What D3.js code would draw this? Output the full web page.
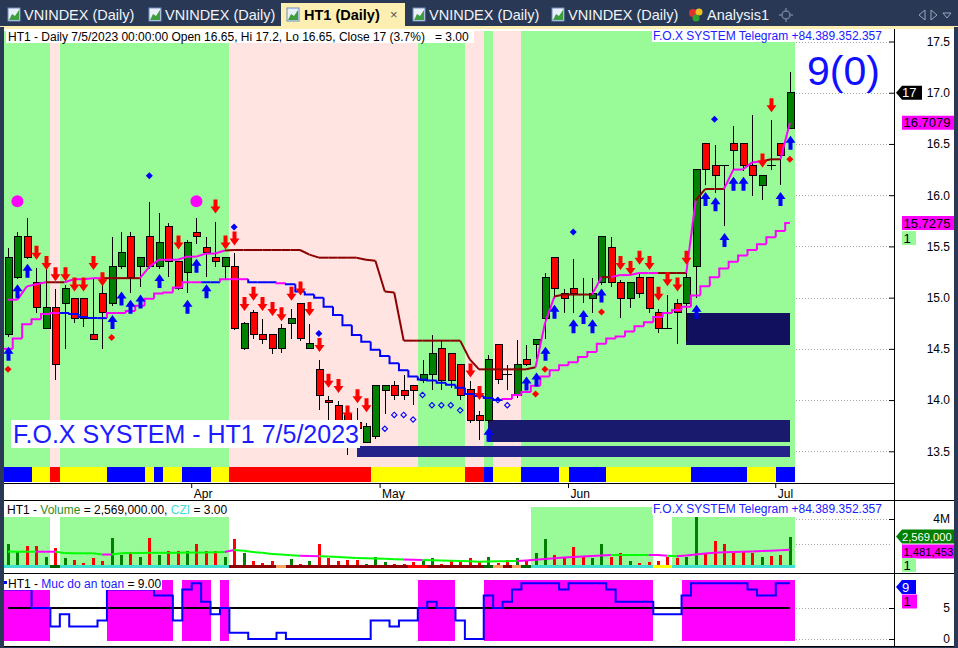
<!DOCTYPE html>
<html>
<head>
<meta charset="utf-8">
<script src="https://cdn.jsdelivr.net/npm/d3@7"></script>
<style>
  body { margin: 0; background: #293955; overflow: hidden; }
  svg { display: block; }
  text { font-family: "Liberation Sans", Arial, sans-serif; }
</style>
</head>
<body>
<div id="chart"></div>
<script>
// ---------- data ----------
var marDays = [7, 8, 9, 10, 13, 14, 15, 16, 17, 20, 21, 22, 23, 24, 27, 28, 29, 30, 31];
var aprDays = [3, 4, 5, 6, 7, 10, 11, 12, 13, 14, 17, 18, 19, 20, 21, 24, 25, 26, 27, 28];
var mayDays = [4, 5, 8, 9, 10, 11, 12, 15, 16, 17, 18, 19, 22, 23, 24, 25, 26, 29, 30, 31];
var junDays = [1, 2, 5, 6, 7, 8, 9, 12, 13, 14, 15, 16, 19, 20, 21, 22, 23, 26, 27, 28, 29, 30];
var julDays = [3, 4, 5];
var dates = [].concat(
    marDays.map(d => "3/" + d), aprDays.map(d => "4/" + d), mayDays.map(d => "5/" + d),
    junDays.map(d => "6/" + d), julDays.map(d => "7/" + d));
var monthTicks = ["4/3", "5/4", "6/1", "7/3"];
var monthNames = ["Apr", "May", "Jun", "Jul"];

var open = [14.64, 15.20, 15.60, 15.15, 14.70, 14.90, 14.94, 14.99, 14.99, 14.64,
    15.04, 14.94, 15.30, 15.60, 15.30, 15.60, 15.30, 15.69, 15.35, 15.25,
    15.64, 15.49, 15.39, 15.30, 15.30, 14.50, 14.85, 14.64, 14.64, 14.50,
    14.75, 14.94, 14.50, 14.30, 14.00, 13.95, 13.86, 13.78, 13.59, 13.64,
    14.09, 14.14, 14.09, 14.14, 14.19, 14.25, 14.50, 14.45, 14.35, 14.10,
    13.85, 13.80, 14.54, 14.25, 14.04, 14.40, 14.54, 14.80, 15.39, 15.04,
    15.09, 15.04, 14.99, 15.15, 15.49, 15.15, 14.99, 15.20, 15.20, 14.85,
    14.70, 14.94, 14.94, 15.30, 16.50, 16.29, 16.29, 16.50, 16.50, 16.29,
    16.09, 16.29, 16.50, 16.65];
var high = [15.48, 15.64, 15.78, 15.29, 15.29, 15.08, 15.12, 15.00, 15.00, 15.19,
    15.20, 15.59, 15.64, 15.64, 15.40, 15.93, 15.83, 15.73, 15.36, 15.56,
    15.78, 15.59, 15.74, 15.40, 15.44, 14.76, 14.88, 14.79, 14.64, 14.74,
    14.89, 14.95, 14.74, 14.39, 14.04, 13.99, 13.90, 13.92, 13.78, 14.15,
    14.15, 14.19, 14.24, 14.14, 14.39, 14.64, 14.59, 14.45, 14.35, 14.19,
    13.89, 14.44, 14.55, 14.34, 14.59, 14.54, 14.60, 15.24, 15.39, 15.08,
    15.38, 15.19, 15.19, 15.60, 15.59, 15.17, 15.15, 15.24, 15.20, 14.89,
    15.03, 14.99, 15.24, 16.25, 16.50, 16.49, 16.29, 16.68, 16.50, 16.78,
    16.19, 16.73, 16.50, 17.20];
var low = [14.62, 15.18, 15.38, 14.85, 14.69, 14.20, 14.50, 14.75, 14.71, 14.59,
    14.50, 14.92, 15.28, 15.05, 15.10, 15.28, 15.28, 15.20, 15.07, 15.05,
    15.52, 15.20, 15.30, 15.17, 14.68, 14.49, 14.60, 14.55, 14.45, 14.46,
    14.60, 14.58, 14.50, 13.90, 13.80, 13.70, 13.46, 13.66, 13.58, 13.62,
    13.86, 14.00, 14.00, 13.95, 14.17, 14.10, 14.10, 14.12, 14.00, 13.78,
    13.61, 13.78, 14.16, 14.10, 14.02, 14.33, 14.40, 14.60, 14.99, 14.85,
    14.85, 14.95, 14.85, 15.12, 15.10, 14.80, 14.90, 15.00, 14.85, 14.65,
    14.70, 14.55, 14.58, 15.00, 16.10, 16.02, 15.70, 16.24, 16.24, 15.99,
    15.95, 16.25, 16.10, 16.65];
var close = [15.39, 15.60, 15.39, 14.90, 14.90, 14.35, 15.09, 14.80, 14.80, 14.59,
    14.85, 15.30, 15.44, 15.20, 15.39, 15.30, 15.54, 15.35, 15.09, 15.54,
    15.60, 15.44, 15.35, 15.39, 14.70, 14.75, 14.64, 14.59, 14.50, 14.70,
    14.80, 14.60, 14.55, 14.04, 13.98, 13.80, 13.80, 13.72, 13.74, 14.14,
    14.14, 14.04, 14.04, 14.09, 14.25, 14.45, 14.19, 14.19, 14.04, 13.80,
    13.80, 14.40, 14.20, 14.25, 14.35, 14.35, 14.59, 15.20, 15.09, 14.99,
    15.04, 15.04, 15.04, 15.60, 15.15, 14.99, 15.15, 15.04, 14.89, 14.70,
    14.70, 14.85, 15.20, 16.25, 16.25, 16.19, 16.29, 16.44, 16.29, 16.19,
    16.19, 16.29, 16.39, 17.00];

// trailing stops (upper hugs price, lower is the slow stair)
var upperStop = [14.98, 14.98, 15.11, 15.13, 15.15, 15.15, 15.15, 15.18, 15.18, 15.19,
    15.19, 15.19, 15.19, 15.19, 15.19, 15.30, 15.37, 15.37, 15.37, 15.40,
    15.40, 15.43, 15.43, 15.46, 15.465, 15.465, 15.465, 15.465, 15.465, 15.465,
    15.465, 15.465, 15.42, 15.39, 15.39, 15.39, 15.39, 15.39, 15.37, 15.36,
    15.06, 15.05, 14.58, 14.58, 14.58, 14.58, 14.58, 14.58, 14.58, 14.40,
    14.30, 14.30, 14.30, 14.30, 14.30, 14.30, 14.32, 14.75, 15.01, 15.03,
    15.03, 15.03, 15.03, 15.20, 15.20, 15.22, 15.22, 15.24, 15.24, 15.24,
    15.24, 15.24, 15.24, 15.95, 16.06, 16.06, 16.06, 16.25, 16.25, 16.32,
    16.33, 16.35, 16.35, 16.7079];
var upperColorRuns = [["M", 5], ["R", 2], ["M", 4], ["R", 4], ["M", 9], ["R", 33], ["M", 2], ["R", 4],
    ["M", 1], ["R", 1], ["M", 5], ["R", 3], ["M", 1], ["R", 3], ["M", 4], ["R", 2], ["M", 1]];
var lowerStop = [14.50, 14.60, 14.74, 14.79, 14.84, 14.85, 14.85, 14.84, 14.81, 14.80,
    14.80, 14.85, 14.85, 14.87, 14.92, 14.99, 15.04, 15.05, 15.10, 15.15,
    15.15, 15.15, 15.15, 15.18, 15.18, 15.18, 15.15, 15.15, 15.15, 15.14,
    15.13, 15.06, 15.03, 15.00, 14.91, 14.83, 14.73, 14.635, 14.57, 14.49,
    14.43, 14.36, 14.29, 14.23, 14.20, 14.19, 14.17, 14.15, 14.12, 14.06,
    14.04, 14.02, 14.00, 14.01, 14.05, 14.08, 14.14, 14.23, 14.29, 14.34,
    14.37, 14.42, 14.47, 14.55, 14.60, 14.62, 14.67, 14.72, 14.76, 14.81,
    14.85, 14.88, 14.91, 15.02, 15.11, 15.20, 15.285, 15.35, 15.41, 15.465,
    15.52, 15.59, 15.65, 15.7275];
var lowerColorRuns = [["M", 6], ["B", 5], ["M", 10], ["B", 2], ["M", 3], ["B", 3], ["M", 1], ["B", 23], ["M", 31]];

// background state and bottom strip
var bgRuns = [["G", 5], ["P", 1], ["G", 18], ["P", 20], ["G", 5], ["P", 2], ["G", 1], ["P", 3], ["G", 29]];
var stripRuns = [["B", 3], ["Y", 2], ["R", 1], ["Y", 5], ["B", 4], ["Y", 1], ["B", 1], ["Y", 2], ["B", 3], ["Y", 2],
    ["R", 15], ["Y", 10], ["R", 2], ["B", 1], ["Y", 3], ["B", 4], ["Y", 1], ["B", 4], ["Y", 9], ["B", 6], ["Y", 3], ["B", 2]];

// signals: [bar index, price]
var buyArrows = [[0, 14.52], [1, 15.13], [2, 15.33], [11, 14.83], [12, 15.06], [13, 14.98], [14, 15.03],
    [16, 15.23], [19, 14.98], [20, 15.38], [21, 15.13], [51, 13.73], [55, 14.23], [56, 14.27], [57, 14.52],
    [58, 14.93], [60, 14.79], [61, 14.88], [62, 14.79], [63, 15.09], [73, 14.93], [74, 16.03], [75, 15.98],
    [76, 15.63], [77, 16.18], [78, 16.18], [82, 16.03], [83, 16.58]];
var sellArrows = [[3, 15.37], [4, 15.27], [5, 15.16], [6, 15.16], [7, 15.06], [8, 15.06], [9, 15.27],
    [10, 15.11], [18, 15.47], [22, 15.82], [23, 15.47], [24, 15.51], [25, 14.87], [26, 14.97], [27, 14.87],
    [28, 14.82], [29, 14.77], [30, 14.97], [31, 15.02], [32, 14.82], [33, 14.47], [34, 14.12], [35, 14.07],
    [36, 13.81], [37, 13.97], [38, 13.88], [49, 14.22], [50, 14.00], [65, 15.27], [66, 15.22], [67, 15.32],
    [68, 15.27], [69, 14.97], [70, 15.11], [71, 15.06], [72, 15.32], [80, 16.27], [81, 16.81]];
var redDots = [[0, 14.30], [11, 14.61], [56, 14.06], [57, 14.30], [63, 14.86], [83, 16.35]];
var blueDots = [[15, 16.19], [24, 15.69], [33, 14.65], [60, 15.64], [75, 16.74]];
var bigDots = [[1, 15.94], [20, 15.94]];
var hollowDots = [[40, 13.72], [41, 13.855], [42, 13.855], [43, 13.81], [44, 14.05], [45, 13.95],
    [46, 13.95], [47, 13.95], [48, 13.90], [52, 14.00], [53, 13.95]];
// zones: [from bar, to bar, low price, high price, colour]
var zones = [[72, 83, 14.54, 14.85, "#10105e"], [51, 83, 13.59, 13.81, "#19196e"], [37, 83, 13.445, 13.55, "#22228a"]];

// volume pane (millions)
var volume = [1.96, 1.33, 1.80, 1.80, 0.93, 1.66, 0.79, 0.65, 0.38, 0.79,
    0.57, 2.47, 1.06, 1.33, 0.93, 2.47, 1.06, 1.42, 1.42, 1.42,
    1.93, 1.42, 1.42, 0.93, 2.34, 1.20, 0.60, 0.44, 0.60, 0.24,
    0.73, 0.33, 0.60, 1.96, 0.79, 0.60, 0.65, 0.65, 0.33, 0.93,
    0.52, 0.33, 0.33, 0.52, 0.60, 0.79, 0.33, 0.65, 0.52, 0.79,
    0.52, 0.90, 0.44, 0.65, 0.79, 0.57, 1.20, 2.37, 1.06, 0.93,
    1.69, 0.87, 0.79, 1.96, 0.93, 1.20, 0.57, 0.38, 0.52, 0.57,
    0.87, 0.79, 0.87, 4.14, 1.20, 2.23, 1.96, 1.25, 1.28, 1.25,
    0.87, 1.01, 1.06, 2.569];
var volMA = [1.33, 1.33, 1.33, 1.33, 1.33, 1.33, 1.22, 1.20, 1.20, 1.20,
    1.10, 1.10, 1.20, 1.22, 1.22, 1.24, 1.24, 1.24, 1.24, 1.26,
    1.26, 1.26, 1.28, 1.30, 1.47, 1.40, 1.30, 1.25, 1.15, 1.10,
    1.05, 1.00, 0.98, 0.96, 0.93, 0.90, 0.86, 0.82, 0.79, 0.77,
    0.75, 0.72, 0.70, 0.68, 0.65, 0.63, 0.61, 0.60, 0.57, 0.55,
    0.52, 0.53, 0.55, 0.56, 0.58, 0.62, 0.68, 0.74, 0.80, 0.85,
    0.90, 0.94, 0.98, 1.02, 1.06, 1.06, 1.06, 1.06, 1.06, 1.06,
    1.00, 0.95, 1.02, 1.10, 1.18, 1.25, 1.28, 1.30, 1.32, 1.35,
    1.38, 1.41, 1.44, 1.481453];
var volMAColorRuns = [["G", 4], ["M", 2], ["G", 5], ["M", 1], ["G", 12], ["M", 1], ["G", 7], ["M", 2],
    ["G", 9], ["M", 2], ["G", 10], ["M", 10], ["G", 4], ["M", 2], ["G", 1], ["M", 12]];
var volBandRuns = [[4.16, 5], [0, 1], [4.16, 18], [0, 32], [4.98, 13], [0, 2], [4.16, 13]];
var czRuns = [["T", 5], ["G", 1], ["T", 18], ["D", 5], ["O", 1], ["D", 13], ["R", 2], ["D", 6], ["G", 1],
    ["O", 1], ["D", 1], ["O", 1], ["G", 1], ["T", 13], ["Y", 2], ["T", 13]];

// "Muc do an toan" pane
var safety = [8, 8, 8, 5, 5, 2, 4, 2, 2, 2,
    3, 8, 8, 8, 8, 8, 7, 7, 3, 8,
    9, 6, 4, 5, 1, 1, 0, 0, 0, 1,
    0, 0, 0, 0, 0, 0, 0, 0, 0, 3,
    3, 2, 3, 3, 5, 6, 5, 5, 3, 0,
    0, 7, 5, 6, 8, 9, 9, 9, 9, 8,
    9, 9, 9, 9, 8, 6, 6, 6, 6, 4,
    4, 4, 7, 9, 9, 9, 9, 9, 9, 8,
    7, 7, 9, 9];

var priceTicks = [13.5, 14, 14.5, 15, 15.5, 16, 16.5, 17, 17.5];
var volTicks = [2e6, 4e6];
var safetyTicks = [0, 5];

var colors = {
    M: "#ff00ff", R: "#8b0000", B: "#0000ff",
    G: "#98fb98", P: "#ffe4e1",
    stripB: "#0000ff", stripY: "#ffff00", stripR: "#ff0000",
    czT: "#40e0d0", czG: "#006400", czD: "#8b0000", czO: "#f4a460", czR: "#ff0000", czY: "#ffff00",
    maG: "#00ff00", maM: "#ff00ff"
};

// ---------- helpers ----------
function expand(runs) {
    var out = [];
    runs.forEach(function(r) {
        for (var k = 0; k < r[1]; k++) out.push(r[0]);
    });
    return out;
}

function runsOf(arr) {
    var res = [], s = 0;
    for (var i = 1; i <= arr.length; i++) {
        if (i == arr.length || arr[i] !== arr[s]) {
            res.push({ s: s, e: i - 1, v: arr[s] });
            s = i;
        }
    }
    return res;
}

var bgState = expand(bgRuns);
var stripState = expand(stripRuns);
var upperColor = expand(upperColorRuns);
var lowerColor = expand(lowerColorRuns);
var maColor = expand(volMAColorRuns);
var volBand = expand(volBandRuns);
var czState = expand(czRuns);

// ---------- layout ----------
var W = 958, H = 648;
var axisX = 894;
var mainTop = 30, stripTop = 466.7, mainBottom = 483;
var volTop = 500, volBottom = 573, safeBottom = 646;

var svg = d3.select("#chart").append("svg").attr("width", W).attr("height", H);
svg.append("rect").attr("width", W).attr("height", H).attr("fill", "#293955");
svg.append("rect").attr("x", 4).attr("y", 29).attr("width", 950).attr("height", 618).attr("fill", "#fff");

var x = d3.scaleBand().domain(dates).range([3.3, 794.6]).padding(0);
var bw = x.bandwidth();
function cx(i) { return x(dates[i]) + bw / 2; }
function left(i) { return x(dates[i]); }
function right(i) { return x(dates[i]) + bw; }

var yP = d3.scaleLinear().domain([13.5, 17.5]).range([451.3, 41.5]);
var yV = d3.scaleLinear().domain([0, 4e6]).range([568, 519]);
var yS = d3.scaleLinear().domain([0, 5]).range([639, 608]);

// ---------- tab bar ----------
var tabs = svg.append("g");
tabs.append("rect").attr("width", W).attr("height", 27).attr("fill", "#293955");
tabs.append("rect").attr("x", 281).attr("y", 3).attr("width", 124).attr("height", 25).attr("fill", "#fdefb2");
tabs.append("rect").attr("x", 0).attr("y", 26).attr("width", W).attr("height", 3).attr("fill", "#fdefb2");

function tabIcon(ix) {
    tabs.append("rect").attr("x", ix).attr("y", 8).attr("width", 12).attr("height", 13)
        .attr("fill", "#e9f0fa").attr("stroke", "#6a8dc0");
    tabs.append("path").attr("d", "M" + (ix + 1) + ",20 L" + (ix + 4) + ",14 L" + (ix + 7) + ",16 L" + (ix + 11) + ",10 L" + (ix + 11) + ",20 Z")
        .attr("fill", "#3e9e3e");
}
[[8, 24, "VNINDEX (Daily)"], [149, 165, "VNINDEX (Daily)"], [413, 429, "VNINDEX (Daily)"], [552, 568, "VNINDEX (Daily)"]]
.forEach(function(t) {
    tabIcon(t[0]);
    tabs.append("text").attr("x", t[1]).attr("y", 20).attr("font-size", 14.5).attr("fill", "#f2f4f8").text(t[2]);
});
tabIcon(287);
tabs.append("text").attr("x", 304).attr("y", 20).attr("font-size", 14.5).attr("font-weight", "bold")
    .attr("fill", "#000").text("HT1 (Daily)");
tabs.append("text").attr("x", 390).attr("y", 19).attr("font-size", 13).attr("fill", "#555").text("×");
tabs.append("circle").attr("cx", 693).attr("cy", 13).attr("r", 4).attr("fill", "#e03030");
tabs.append("circle").attr("cx", 699).attr("cy", 12).attr("r", 3.5).attr("fill", "#f0c020");
tabs.append("circle").attr("cx", 696).attr("cy", 18).attr("r", 3.5).attr("fill", "#30a030");
tabs.append("text").attr("x", 707).attr("y", 20).attr("font-size", 14.5).attr("fill", "#f2f4f8").text("Analysis1");
tabs.append("circle").attr("cx", 786).attr("cy", 15).attr("r", 4).attr("fill", "none").attr("stroke", "#6f7c95").attr("stroke-width", 1.5);
tabs.append("path").attr("d", "M786,8 V12 M786,18 V22 M779,15 H783 M789,15 H793").attr("stroke", "#6f7c95").attr("stroke-width", 1.5);
tabs.append("path").attr("d", "M925,10 L919,15 L925,20 Z M931,10 L937,15 L931,20 Z M943,13 L951,13 L947,18 Z")
    .attr("fill", "none").attr("stroke", "#9aa6bb");

// ---------- main pane ----------
var gMain = svg.append("g").attr("shape-rendering", "crispEdges");

// gridlines (visible only right of the bars)
gMain.selectAll(".pgrid").data(priceTicks).enter().append("line")
    .attr("x1", 796).attr("x2", axisX - 4)
    .attr("y1", d => Math.round(yP(d)) + 0.5).attr("y2", d => Math.round(yP(d)) + 0.5)
    .attr("stroke", "#a8a8a8").attr("stroke-dasharray", "1,2");

// background bands
gMain.selectAll(".band").data(runsOf(bgState)).enter().append("rect")
    .attr("x", d => left(d.s)).attr("width", d => right(d.e) - left(d.s))
    .attr("y", mainTop + 1).attr("height", stripTop - mainTop - 1)
    .attr("fill", d => colors[d.v]);

// bottom strip
gMain.selectAll(".strip").data(runsOf(stripState)).enter().append("rect")
    .attr("x", d => left(d.s)).attr("width", d => right(d.e) - left(d.s))
    .attr("y", stripTop).attr("height", mainBottom - stripTop - 1)
    .attr("fill", d => colors["strip" + d.v]);

// zones
gMain.selectAll(".zone").data(zones).enter().append("rect")
    .attr("x", d => cx(d[0])).attr("width", d => cx(d[1]) - cx(d[0]))
    .attr("y", d => yP(d[3])).attr("height", d => yP(d[2]) - yP(d[3]))
    .attr("fill", d => d[4]);

// candles
var idx = d3.range(dates.length);
gMain.selectAll(".wick").data(idx).enter().append("line")
    .attr("x1", i => Math.round(cx(i)) + 0.5).attr("x2", i => Math.round(cx(i)) + 0.5)
    .attr("y1", i => yP(high[i])).attr("y2", i => yP(low[i]))
    .attr("stroke", "#000");
gMain.selectAll(".body").data(idx.filter(i => open[i] != close[i])).enter().append("rect")
    .attr("x", i => Math.round(cx(i)) - 3)
    .attr("width", 7)
    .attr("y", i => yP(Math.max(open[i], close[i])))
    .attr("height", i => Math.max(1, yP(Math.min(open[i], close[i])) - yP(Math.max(open[i], close[i]))))
    .attr("fill", i => close[i] > open[i] ? "#008000" : "#ff0000")
    .attr("stroke", "#000");
gMain.selectAll(".doji").data(idx.filter(i => open[i] == close[i])).enter().append("line")
    .attr("x1", i => Math.round(cx(i)) - 4).attr("x2", i => Math.round(cx(i)) + 5)
    .attr("y1", i => Math.round(yP(close[i])) + 0.5).attr("y2", i => Math.round(yP(close[i])) + 0.5)
    .attr("stroke", "#000");

// stop lines
var gLines = svg.append("g").attr("fill", "none").attr("stroke-width", 2);
idx.slice(1).forEach(function(i) {
    gLines.append("path")
        .attr("d", d3.line()([[cx(i - 1), yP(upperStop[i - 1])], [cx(i), yP(upperStop[i])]]))
        .attr("stroke", colors[upperColor[i]]);
});
idx.forEach(function(i) {
    var xl = i == 0 ? left(i) : (cx(i - 1) + cx(i)) / 2;
    var xr = i == idx.length - 1 ? cx(i) : (cx(i) + cx(i + 1)) / 2;
    var d = i == 0 ? "M" + xl + "," + yP(lowerStop[i]) + "H" + xr :
        "M" + xl + "," + yP(lowerStop[i - 1]) + "V" + yP(lowerStop[i]) + "H" + xr;
    gLines.append("path").attr("d", d).attr("stroke", colors[lowerColor[i]]);
});

// signals
function upArrow(d) {
    var xc = Math.round(cx(d[0])) + 0.5, yt = yP(d[1]);
    return "M" + xc + "," + yt + " l5,7 h-3 v7 h-4 v-7 h-3 Z";
}
function downArrow(d) {
    var xc = Math.round(cx(d[0])) + 0.5, yb = yP(d[1]);
    return "M" + xc + "," + yb + " l5,-7 h-3 v-7 h-4 v7 h-3 Z";
}
function diamond(d, r) {
    var xc = cx(d[0]), yc = yP(d[1]);
    return "M" + xc + "," + (yc - r) + " l" + r + "," + r + " l" + (-r) + "," + r + " l" + (-r) + "," + (-r) + " Z";
}
var gSig = svg.append("g");
gSig.selectAll(".buy").data(buyArrows).enter().append("path").attr("d", upArrow).attr("fill", "#0000ff");
gSig.selectAll(".sell").data(sellArrows).enter().append("path").attr("d", downArrow).attr("fill", "#ff0000");
gSig.selectAll(".rdot").data(redDots).enter().append("path").attr("d", d => diamond(d, 3.5)).attr("fill", "#ff0000");
gSig.selectAll(".bdot").data(blueDots).enter().append("path").attr("d", d => diamond(d, 3.5)).attr("fill", "#0000ff");
gSig.selectAll(".mdot").data(bigDots).enter().append("circle")
    .attr("cx", d => cx(d[0])).attr("cy", d => yP(d[1])).attr("r", 6).attr("fill", "#ff00ff");
gSig.selectAll(".hdot").data(hollowDots).enter().append("path").attr("d", d => diamond(d, 2.7))
    .attr("fill", "none").attr("stroke", "#0000ff").attr("stroke-width", 1.1);

// titles in main pane
svg.append("rect").attr("x", 6).attr("y", 31).attr("width", 468).attr("height", 12).attr("fill", "#fff");
svg.append("text").attr("x", 8).attr("y", 41).attr("font-size", 12).style("white-space", "pre")
    .text("HT1 - Daily 7/5/2023 00:00:00 Open " + open[83] + ", Hi " + high[83] + ", Lo " + low[83] +
        ", Close " + close[83] + " (3.7%)   = 3.00");
svg.append("rect").attr("x", 652).attr("y", 30).attr("width", 233).attr("height", 12).attr("fill", "#fff");
svg.append("text").attr("x", 653).attr("y", 40).attr("font-size", 12).attr("fill", "#2020ff")
    .text("F.O.X SYSTEM Telegram +84.389.352.357");
svg.append("text").attr("x", 807).attr("y", 85).attr("font-size", 41).attr("fill", "#1010ff").text("9(0)");
svg.append("rect").attr("x", 11).attr("y", 420).attr("width", 349).attr("height", 28).attr("fill", "#fff");
svg.append("text").attr("x", 13).attr("y", 443).attr("font-size", 25).attr("fill", "#1c1cff")
    .text("F.O.X SYSTEM - HT1 7/5/2023");

// x axis
var xAxis = d3.axisBottom(x).tickValues(monthTicks).tickSize(5).tickPadding(1)
    .tickFormat(d => monthNames[monthTicks.indexOf(d)]);
var gx = svg.append("g").attr("transform", "translate(" + (bw / 2) + "," + mainBottom + ")").call(xAxis);
gx.select(".domain").remove();
gx.attr("font-family", null).attr("font-size", 12);
gx.selectAll("text").attr("text-anchor", "start").attr("x", 2).attr("fill", "#000");
gx.selectAll("line").attr("stroke", "#000");

// ---------- volume pane ----------
var gVol = svg.append("g").attr("shape-rendering", "crispEdges");
gVol.selectAll(".vgrid").data(volTicks).enter().append("line")
    .attr("x1", 796).attr("x2", axisX - 4)
    .attr("y1", d => Math.round(yV(d)) + 0.5).attr("y2", d => Math.round(yV(d)) + 0.5)
    .attr("stroke", "#a8a8a8").attr("stroke-dasharray", "1,2");
gVol.selectAll(".vband").data(runsOf(volBand).filter(d => d.v > 0)).enter().append("rect")
    .attr("x", d => left(d.s)).attr("width", d => right(d.e) - left(d.s))
    .attr("y", d => yV(d.v * 1e6)).attr("height", d => 568 - yV(d.v * 1e6))
    .attr("fill", colors.G);
gVol.selectAll(".cz").data(runsOf(czState)).enter().append("rect")
    .attr("x", d => left(d.s)).attr("width", d => right(d.e) - left(d.s))
    .attr("y", 565).attr("height", 3)
    .attr("fill", d => colors["cz" + d.v]);
gVol.selectAll(".vbar").data(idx).enter().append("rect")
    .attr("x", i => Math.round(cx(i)) - 1).attr("width", 3)
    .attr("y", i => yV(volume[i] * 1e6)).attr("height", i => 565 - yV(volume[i] * 1e6))
    .attr("fill", i => close[i] > open[i] ? "#008000" : "#ff0000");
idx.slice(1).forEach(function(i) {
    svg.append("path")
        .attr("d", d3.line()([[cx(i - 1), yV(volMA[i - 1] * 1e6)], [cx(i), yV(volMA[i] * 1e6)]]))
        .attr("fill", "none").attr("stroke-width", 2)
        .attr("stroke", maColor[i] == "G" ? colors.maG : colors.maM);
});
svg.append("rect").attr("x", 6).attr("y", 504).attr("width", 224).attr("height", 12).attr("fill", "#fff");
var vt = svg.append("text").attr("x", 7).attr("y", 514).attr("font-size", 12).style("white-space", "pre");
vt.append("tspan").text("HT1 - ");
vt.append("tspan").attr("fill", "#2e8b22").text("Volume");
vt.append("tspan").text(" = " + d3.format(",.2f")(volume[83] * 1e6) + ", ");
vt.append("tspan").attr("fill", "#40e0d0").text("CZI");
vt.append("tspan").text(" = 3.00");
svg.append("rect").attr("x", 652).attr("y", 503).attr("width", 233).attr("height", 12).attr("fill", "#fff");
svg.append("text").attr("x", 653).attr("y", 513).attr("font-size", 12).attr("fill", "#2020ff")
    .text("F.O.X SYSTEM Telegram +84.389.352.357");

// ---------- safety pane ----------
var gSafe = svg.append("g").attr("shape-rendering", "crispEdges");
gSafe.selectAll(".sgrid").data(safetyTicks).enter().append("line")
    .attr("x1", 796).attr("x2", axisX - 4)
    .attr("y1", d => Math.round(yS(d)) + 0.5).attr("y2", d => Math.round(yS(d)) + 0.5)
    .attr("stroke", "#a8a8a8").attr("stroke-dasharray", "1,2");
gSafe.selectAll(".sblock").data(runsOf(safety.map(v => v >= 5)).filter(d => d.v)).enter().append("rect")
    .attr("x", d => left(d.s)).attr("width", d => right(d.e) - left(d.s))
    .attr("y", yS(9.5)).attr("height", yS(-0.3) - yS(9.5))
    .attr("fill", "#ff00ff");
svg.append("line").attr("x1", cx(0)).attr("x2", cx(83)).attr("y1", yS(5)).attr("y2", yS(5))
    .attr("stroke", "#000").attr("stroke-width", 2);
svg.append("path")
    .attr("d", d3.line().curve(d3.curveStep).x(i => i == 0 ? left(0) : cx(i)).y(i => yS(safety[i]))(idx))
    .attr("fill", "none").attr("stroke", "#0000ff").attr("stroke-width", 2);
svg.append("rect").attr("x", 4).attr("y", 578).attr("width", 158).attr("height", 12).attr("fill", "#fff");
svg.append("rect").attr("x", 4).attr("y", 581).attr("width", 3).attr("height", 3).attr("fill", "#0000ff");
var st = svg.append("text").attr("x", 8).attr("y", 588).attr("font-size", 12).style("white-space", "pre");
st.append("tspan").text("HT1 - ");
st.append("tspan").attr("fill", "#2020ff").text("Muc do an toan");
st.append("tspan").text(" = " + d3.format(".2f")(safety[83]));

// ---------- frame, axes, value tags ----------
var gFrame = svg.append("g").attr("stroke", "#000").attr("shape-rendering", "crispEdges");
gFrame.append("line").attr("x1", 4).attr("x2", axisX).attr("y1", mainBottom + 0.5).attr("y2", mainBottom + 0.5);
[volTop, volBottom, safeBottom].forEach(function(yy) {
    gFrame.append("line").attr("x1", 4).attr("x2", 954).attr("y1", yy + 0.5).attr("y2", yy + 0.5);
});
gFrame.append("line").attr("x1", axisX + 0.5).attr("x2", axisX + 0.5).attr("y1", 29).attr("y2", safeBottom);

function rightAxis(scale, ticks, fmt) {
    var g = svg.append("g").attr("transform", "translate(" + axisX + ",0)")
        .call(d3.axisLeft(scale).tickValues(ticks).tickSize(5).tickSizeOuter(0).tickFormat(fmt));
    g.select(".domain").remove();
    g.attr("font-family", null).attr("font-size", 12);
    g.selectAll("text").attr("x", 56).attr("text-anchor", "end").attr("fill", "#000");
    g.selectAll("line").attr("stroke", "#000");
}
rightAxis(yP, priceTicks, d3.format(".1f"));
rightAxis(yV, [4e6], d => d / 1e6 + "M");
rightAxis(yS, safetyTicks, d3.format("d"));

function valueTag(yc, x0, x1, fill, textFill, label, arrow, fs) {
    var h = 14, y0 = yc - h / 2;
    var d = arrow ?
        "M" + x0 + "," + yc + " L" + (x0 + 6) + "," + y0 + " H" + x1 + " V" + (y0 + h) + " H" + (x0 + 6) + " Z" :
        "M" + x0 + "," + y0 + " H" + x1 + " V" + (y0 + h) + " H" + x0 + " Z";
    svg.append("path").attr("d", d).attr("fill", fill);
    svg.append("text").attr("x", arrow ? x0 + 6 : x0 + 1.5).attr("y", yc + 4.5).attr("font-size", fs || 13)
        .attr("fill", textFill).text(label);
    return y0 + h;
}
valueTag(yP(close[83]), 896, 922, "#000", "#fff", d3.format("d")(close[83]), true);
valueTag(yP(upperStop[83]), 902, 954, "#ff00ff", "#000", d3.format(".4f")(upperStop[83]), false);
var b1 = valueTag(yP(lowerStop[83]), 902, 954, "#ff00ff", "#000", d3.format(".4f")(lowerStop[83]), false);
valueTag(b1 + 8, 902, 916, "#98fb98", "#000", "1", false);
var b2 = valueTag(yV(volume[83] * 1e6), 896, 954, "#008000", "#fff", d3.format(",")(Math.round(volume[83] * 1e6)), true, 11.2);
var b3 = valueTag(b2 + 8, 902, 954, "#ff00ff", "#000", d3.format(",")(Math.round(volMA[83] * 1e6)), false, 11.2);
valueTag(b3 + 6.5, 902, 916, "#98fb98", "#000", "1", false);
var b4 = valueTag(587, 896, 916, "#0000ff", "#fff", String(safety[83]), true);
valueTag(b4 + 7.5, 902, 917, "#ff00ff", "#000", "1", false);

// window borders
svg.append("rect").attr("x", 954).attr("y", 27).attr("width", 4).attr("height", H - 27).attr("fill", "#293955");
svg.append("rect").attr("x", 0).attr("y", 27).attr("width", 4).attr("height", H - 27).attr("fill", "#293955");
svg.append("rect").attr("x", 0).attr("y", 647).attr("width", W).attr("height", 1).attr("fill", "#293955");
</script>
</body>
</html>
